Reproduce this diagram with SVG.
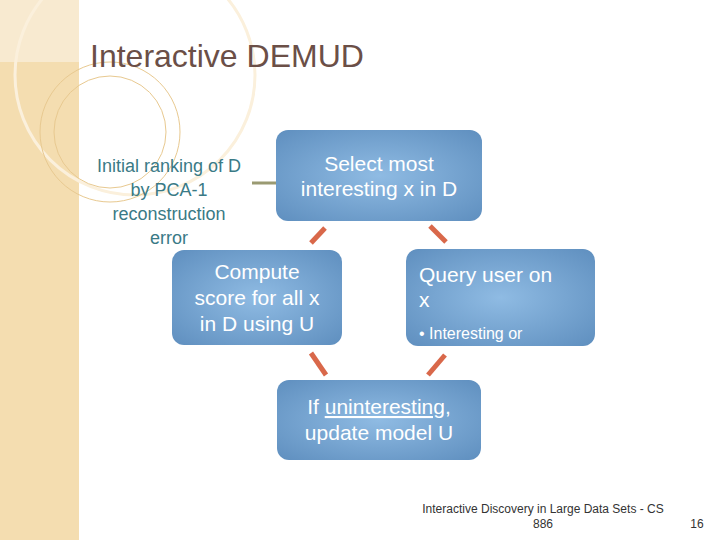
<svg xmlns="http://www.w3.org/2000/svg" width="720" height="540" viewBox="0 0 720 540">
<defs>
<radialGradient id="g" cx="0.5" cy="0.5" r="0.7"><stop offset="0" stop-color="#8fbbe3"/><stop offset="1" stop-color="#5f8fbf"/></radialGradient>
<style>
.box{fill:url(#g);}
.bt{font-family:"Liberation Sans",Arial,sans-serif;fill:#fff;font-size:21px;}
.c{stroke:#d9684a;stroke-width:5;stroke-linecap:butt;}
</style>
<clipPath id="qc"><rect x="406" y="249" width="189" height="97" rx="12"/></clipPath>
</defs>
<rect width="720" height="540" fill="#fff"/>
<g id="strip">
<rect x="0" y="0" width="79" height="540" fill="#f4ddb0"/>
<rect x="0" y="0" width="79" height="62" fill="#f8ead0"/>
<circle cx="135" cy="75" r="120" fill="none" stroke="#fbf0dc" stroke-width="3"/>
<circle cx="110" cy="132" r="70" fill="none" stroke="#e8c990" stroke-width="1"/>
<circle cx="110" cy="132" r="56" fill="none" stroke="#e8c990" stroke-width="1"/>
</g>
<text x="90" y="67" font-family="Liberation Sans,Arial,sans-serif" font-size="32" fill="#6b4f47">Interactive DEMUD</text>
<g id="init" font-family="Liberation Sans,Arial,sans-serif" font-size="18" fill="#3a7a86" text-anchor="middle">
<text x="169" y="172">Initial ranking of D</text>
<text x="169" y="196">by PCA-1</text>
<text x="169" y="220">reconstruction</text>
<text x="169" y="244">error</text>
</g>
<g id="connectors">
<line x1="252" y1="183" x2="288" y2="183" stroke="#9a9a72" stroke-width="3"/>
<line class="c" x1="325" y1="228" x2="311" y2="243"/>
<line class="c" x1="430" y1="226" x2="446" y2="242"/>
<line class="c" x1="311" y1="353" x2="326" y2="375"/>
<line class="c" x1="445" y1="355" x2="428" y2="375"/>
</g>
<g id="select"><rect class="box" x="276" y="130" width="206" height="91" rx="12"/>
<text class="bt" x="379" y="171" text-anchor="middle">Select most</text>
<text class="bt" x="379" y="196" text-anchor="middle">interesting x in D</text></g>
<g id="compute"><rect class="box" x="172" y="250" width="170" height="95" rx="12"/>
<text class="bt" x="257" y="279" text-anchor="middle">Compute</text>
<text class="bt" x="257" y="305" text-anchor="middle">score for all x</text>
<text class="bt" x="257" y="331" text-anchor="middle">in D using U</text></g>
<g id="query"><rect class="box" x="406" y="249" width="189" height="97" rx="12"/>
<g clip-path="url(#qc)">
<text class="bt" x="419" y="282">Query user on</text>
<text class="bt" x="419" y="307">x</text>
<text x="419" y="339" font-family="Liberation Sans,Arial,sans-serif" font-size="16" fill="#fff">• Interesting or</text></g></g>
<g id="update"><rect class="box" x="277" y="380" width="204" height="80" rx="12"/>
<text class="bt" x="379" y="414" text-anchor="middle">If <tspan text-decoration="underline">uninteresting</tspan>,</text>
<text class="bt" x="379" y="440" text-anchor="middle">update model U</text></g>
<g font-family="Liberation Sans,Arial,sans-serif" font-size="12" fill="#333">
<text x="543" y="513" text-anchor="middle">Interactive Discovery in Large Data Sets - CS</text>
<text x="543" y="528" text-anchor="middle">886</text>
<text x="697" y="528" text-anchor="middle">16</text>
</g>
</svg>
